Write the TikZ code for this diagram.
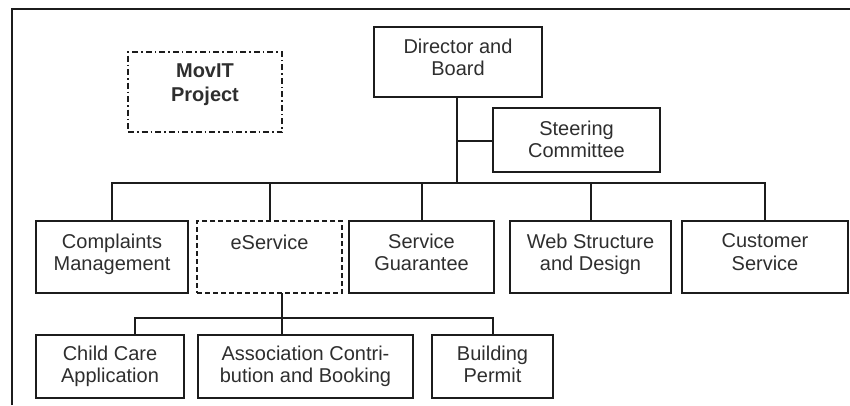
\documentclass[tikz,border=0pt]{standalone}
\usepackage{fontspec}
\setmainfont{Liberation Sans}
\definecolor{ink}{HTML}{1C1C1C}
\definecolor{txt}{HTML}{2E2E2E}
\begin{document}
\begin{tikzpicture}[x=1pt,y=-1pt,
  every node/.style={inner sep=0pt, outer sep=0pt},
  unit/.style={draw=ink, line width=2.1pt, rectangle},
  planned/.style={unit, dash pattern=on 5pt off 3pt},
  project/.style={unit, line width=2pt, dash pattern=on 6pt off 3pt on 1.5pt off 3pt},
  caption/.style={font=\fontsize{20}{22.5}\selectfont, text=txt, align=center,
    execute at begin node=\strut, execute at end node=\strut},
  wire/.style={draw=ink, line width=2pt}]
\useasboundingbox (0,0) rectangle (850,405);

% open frame (left and top edges)
\draw[ink, line width=2.4pt] (12,405) -- (12,9) -- (850,9);

% project marker
\node[project, minimum width=154pt, minimum height=80pt,
  label={[caption, font=\fontsize{20}{23.5}\selectfont\bfseries, yshift=6pt]center:MovIT\\Project}]
  (movit) at (205,92) {};

% top management
\node[unit, minimum width=168pt, minimum height=70pt,
  label={[caption, yshift=1.5pt]center:Director and\\Board}] (dir) at (458,62) {};
\node[unit, minimum width=167pt, minimum height=64pt,
  label={[caption, yshift=-2.5pt]center:Steering\\Committee}] (steer) at (576.5,140) {};

% departments
\node[unit, minimum width=152pt, minimum height=72pt,
  label={[caption, yshift=1.5pt]center:Complaints\\Management}] (compl) at (112,257) {};
\node[planned, minimum width=145pt, minimum height=72pt,
  label={[caption, yshift=12.5pt]center:eService}] (eserv) at (269.5,257) {};
\node[unit, minimum width=145pt, minimum height=72pt,
  label={[caption, yshift=1.5pt]center:Service\\Guarantee}] (guar) at (421.5,257) {};
\node[unit, minimum width=161pt, minimum height=72pt,
  label={[caption, yshift=1.5pt]center:Web Structure\\and Design}] (web) at (590.5,257) {};
\node[unit, minimum width=166pt, minimum height=72pt,
  label={[caption, yshift=1.5pt]center:Customer\\Service}] (cust) at (765,257) {};

% eService projects
\node[unit, minimum width=148pt, minimum height=63pt,
  label={[caption, yshift=-1pt]center:Child Care\\Application}] (child) at (110,366.5) {};
\node[unit, minimum width=215pt, minimum height=63pt,
  label={[caption, yshift=-1pt]center:Association Contri-\\bution and Booking}] (assoc) at (305.5,366.5) {};
\node[unit, minimum width=121pt, minimum height=63pt,
  label={[caption, yshift=-1pt]center:Building\\Permit}] (build) at (492.5,366.5) {};

% bus coordinates
\coordinate (bus) at (457,183);
\coordinate (sbus) at (282,318);

% connectors: management
\draw[wire] ([xshift=-1pt]dir.south) -- (bus);
\draw[wire] (457,141) -- (steer.west |- 0,141);
\draw[wire] (compl.north) -- (compl.north |- bus) -- (cust.north |- bus) -- (cust.north);
\draw[wire] (eserv.north) -- (eserv.north |- bus);
\draw[wire] (guar.north) -- (guar.north |- bus);
\draw[wire] (web.north) -- (web.north |- bus);

% connectors: eService projects
\draw[wire] (eserv.south -| sbus) -- (assoc.north -| sbus);
\draw[wire] (child.north -| 135,0) -- (135,318) -- (build.north |- sbus) -- (build.north);
\end{tikzpicture}
\end{document}
